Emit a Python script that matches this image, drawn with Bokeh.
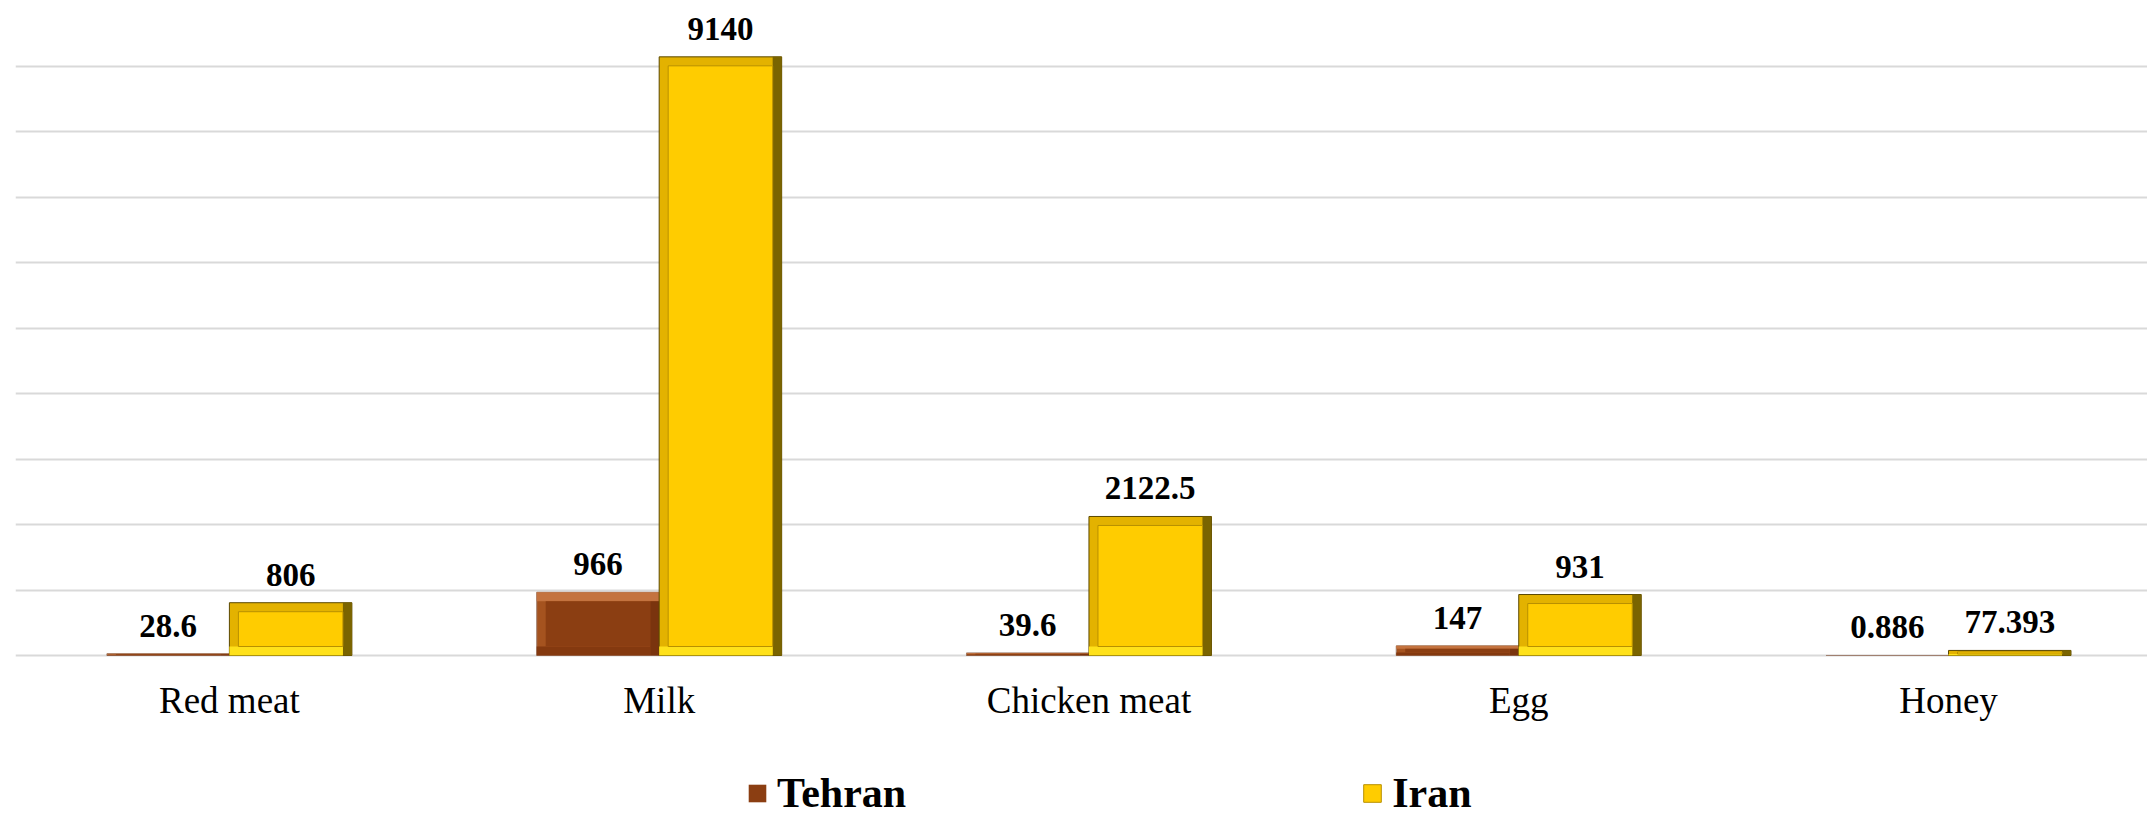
import numpy as np
from bokeh.plotting import figure
from bokeh.models import (ColumnDataSource, Range1d, FixedTicker, Legend, LegendItem)
from bokeh.core.properties import value
from bokeh.embed import file_html
from bokeh.resources import INLINE

# ---- data ----
categories = ["Red meat", "Milk", "Chicken meat", "Egg", "Honey"]
tehran = [28.6, 966, 39.6, 147, 0.886]
iran = [806, 9140, 2122.5, 931, 77.393]
series_names = ["Tehran", "Iran"]
grid_ticks = list(range(0, 10001, 1000))

SERIF = "Liberation Serif"

# frame spans the whole height; value 0 sits 164px above the bottom edge
px_per_unit = 655.0 / 10000.0
y_bottom = -(819 - 655) / px_per_unit

p = figure(width=2147, height=819, output_backend="svg", toolbar_location=None,
           x_range=Range1d(0.0023, 4.963), y_range=Range1d(y_bottom, 10000),
           x_axis_location=None, y_axis_location=None,
           min_border_left=15, min_border_right=0, min_border_top=0, min_border_bottom=0)
p.outline_line_color = None
p.background_fill_color = "white"
p.border_fill_color = "white"
p.xgrid.visible = False
p.ygrid.ticker = FixedTicker(ticks=grid_ticks)
p.ygrid.grid_line_color = "#D9D9D9"
p.ygrid.grid_line_width = 2

centers = np.arange(len(categories)) + 0.5
bw = 0.285
dx = 9.0 / 429.75


def bars(vals, offset):
    vals = np.asarray(vals, dtype=float)
    left = centers + offset - bw / 2
    right = centers + offset + bw / 2
    dy = np.minimum(9.0 / px_per_unit, vals * 0.3)
    return left, right, np.zeros_like(vals), vals, dy


# Tehran (raised bevel, brown)
tl, tr, tb, tt, tdy = bars(tehran, -bw / 2)
p.quad(left=tl, right=tr, bottom=tb, top=tt, fill_color="#A5531F", line_color="#A08070", line_width=1)
p.quad(left=tl, right=tr, bottom=tt - tdy, top=tt, fill_color="#C4733F", line_color=None)
p.quad(left=tr - dx, right=tr, bottom=tb, top=tt - tdy, fill_color="#7A340E", line_color=None)
p.quad(left=tl, right=tr - dx, bottom=tb, top=tb + tdy, fill_color="#84390F", line_color=None)
r_teh = p.quad(left=tl + dx, right=tr - dx, bottom=tb + tdy, top=tt - tdy,
               fill_color="#8B3E12", line_color=None)

# Iran (framed bevel, gold)
il, ir, ib, it, idy = bars(iran, bw / 2)
p.quad(left=il, right=ir, bottom=ib, top=it, fill_color="#E3B200", line_color="#5A4800", line_width=1)
p.quad(left=ir - dx, right=ir, bottom=ib, top=it, fill_color="#7A6400", line_color=None)
p.quad(left=il, right=ir - dx, bottom=ib, top=ib + idy, fill_color="#FFE11A", line_color=None)
r_iran = p.quad(left=il + dx, right=ir - dx, bottom=ib + idy, top=it - idy,
                fill_color="#FFCC00", line_color="#B89000", line_width=1)

# data labels
lab_x = np.concatenate([centers - bw / 2, centers + bw / 2])
lab_y = np.concatenate([np.asarray(tehran, float), np.asarray(iran, float)])
lab_t = [f"{v:g}" for v in tehran] + [f"{v:g}" for v in iran]
lsrc = ColumnDataSource(dict(x=lab_x, y=lab_y, t=lab_t))
p.text(x="x", y="y", text="t", source=lsrc, text_font=value(SERIF), text_font_style="bold",
       text_font_size="33px", text_align="center", text_baseline="alphabetic",
       y_offset=-28, text_color="black")

# category labels under the baseline
csrc = ColumnDataSource(dict(x=centers, y=np.zeros(len(categories)), t=categories))
p.text(x="x", y="y", text="t", source=csrc, text_font=value(SERIF),
       text_font_size="37px", text_align="center", text_baseline="alphabetic",
       y_offset=45, text_color="black")

legend = Legend(items=[LegendItem(label=series_names[0], renderers=[r_teh]),
                       LegendItem(label=series_names[1], renderers=[r_iran])],
                orientation="horizontal", location=(731, 2),
                glyph_width=22, glyph_height=22, label_standoff=9, spacing=455,
                padding=0, margin=0, border_line_color=None, background_fill_alpha=0,
                label_text_font=SERIF, label_text_font_style="bold",
                label_text_font_size="42px", label_text_color="black")
p.add_layout(legend, "center")

open("out.html", "w").write(file_html(p, INLINE))
